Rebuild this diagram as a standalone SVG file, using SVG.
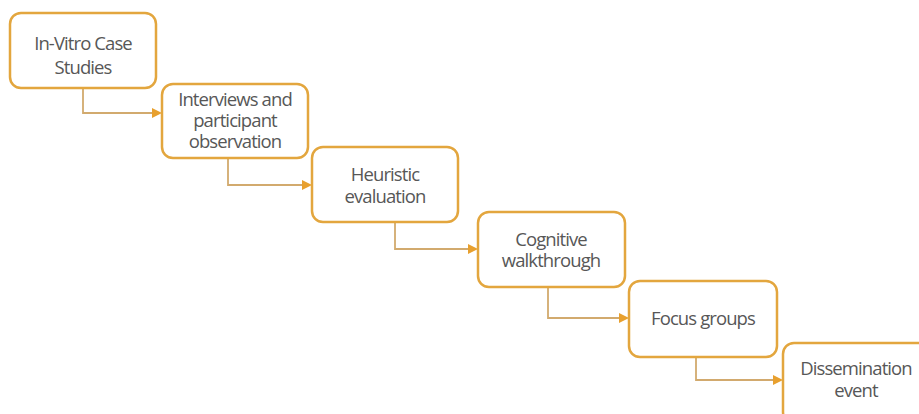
<svg xmlns="http://www.w3.org/2000/svg" width="919" height="414" viewBox="0 0 919 414">
  <style>
    .box { fill: #ffffff; stroke: #E3A63E; stroke-width: 2.5; }
    .lbl { font-family: "Open Sans", "DejaVu Sans", sans-serif; font-size: 18.5px; fill: #575757; text-anchor: middle; letter-spacing: -0.9px; }
    .conn { fill: none; stroke: #D2AA6E; stroke-width: 1.8; }
  </style>
  <rect width="919" height="414" fill="#ffffff"/>

  <g id="connectors">
    <path class="conn" d="M83,88 V113 H154"/>
    <path class="conn" d="M228,158 V185 H304"/>
    <path class="conn" d="M395,222 V249 H470"/>
    <path class="conn" d="M548,287 V318 H621"/>
    <path class="conn" d="M696,357 V380 H775"/>
    <g fill="#E8A02E">
      <path d="M152,108 L162,113 L152,118 z"/>
      <path d="M302,180 L312,185 L302,190 z"/>
      <path d="M468,244 L478,249 L468,254 z"/>
      <path d="M619,313 L629,318 L619,323 z"/>
      <path d="M773,375 L783,380 L773,385 z"/>
    </g>
  </g>

  <g id="n1">
    <rect class="box" x="10" y="13" width="146" height="75" rx="11"/>
    <text class="lbl" x="83" y="50">In-Vitro Case</text>
    <text class="lbl" x="83" y="74">Studies</text>
  </g>
  <g id="n2">
    <rect class="box" x="162" y="84" width="146" height="74" rx="11"/>
    <text class="lbl" x="235" y="106">Interviews and</text>
    <text class="lbl" x="235" y="127">participant</text>
    <text class="lbl" x="235" y="148">observation</text>
  </g>
  <g id="n3">
    <rect class="box" x="312" y="147" width="146" height="75" rx="11"/>
    <text class="lbl" x="385" y="181">Heuristic</text>
    <text class="lbl" x="385" y="203">evaluation</text>
  </g>
  <g id="n4">
    <rect class="box" x="478" y="212" width="147" height="75" rx="11"/>
    <text class="lbl" x="551" y="246">Cognitive</text>
    <text class="lbl" x="551" y="267">walkthrough</text>
  </g>
  <g id="n5">
    <rect class="box" x="629" y="281" width="148" height="76" rx="11"/>
    <text class="lbl" x="703" y="325">Focus groups</text>
  </g>
  <g id="n6">
    <rect class="box" x="783" y="343" width="146" height="80" rx="11"/>
    <text class="lbl" x="856" y="375">Dissemination</text>
    <text class="lbl" x="856" y="397">event</text>
  </g>
</svg>
